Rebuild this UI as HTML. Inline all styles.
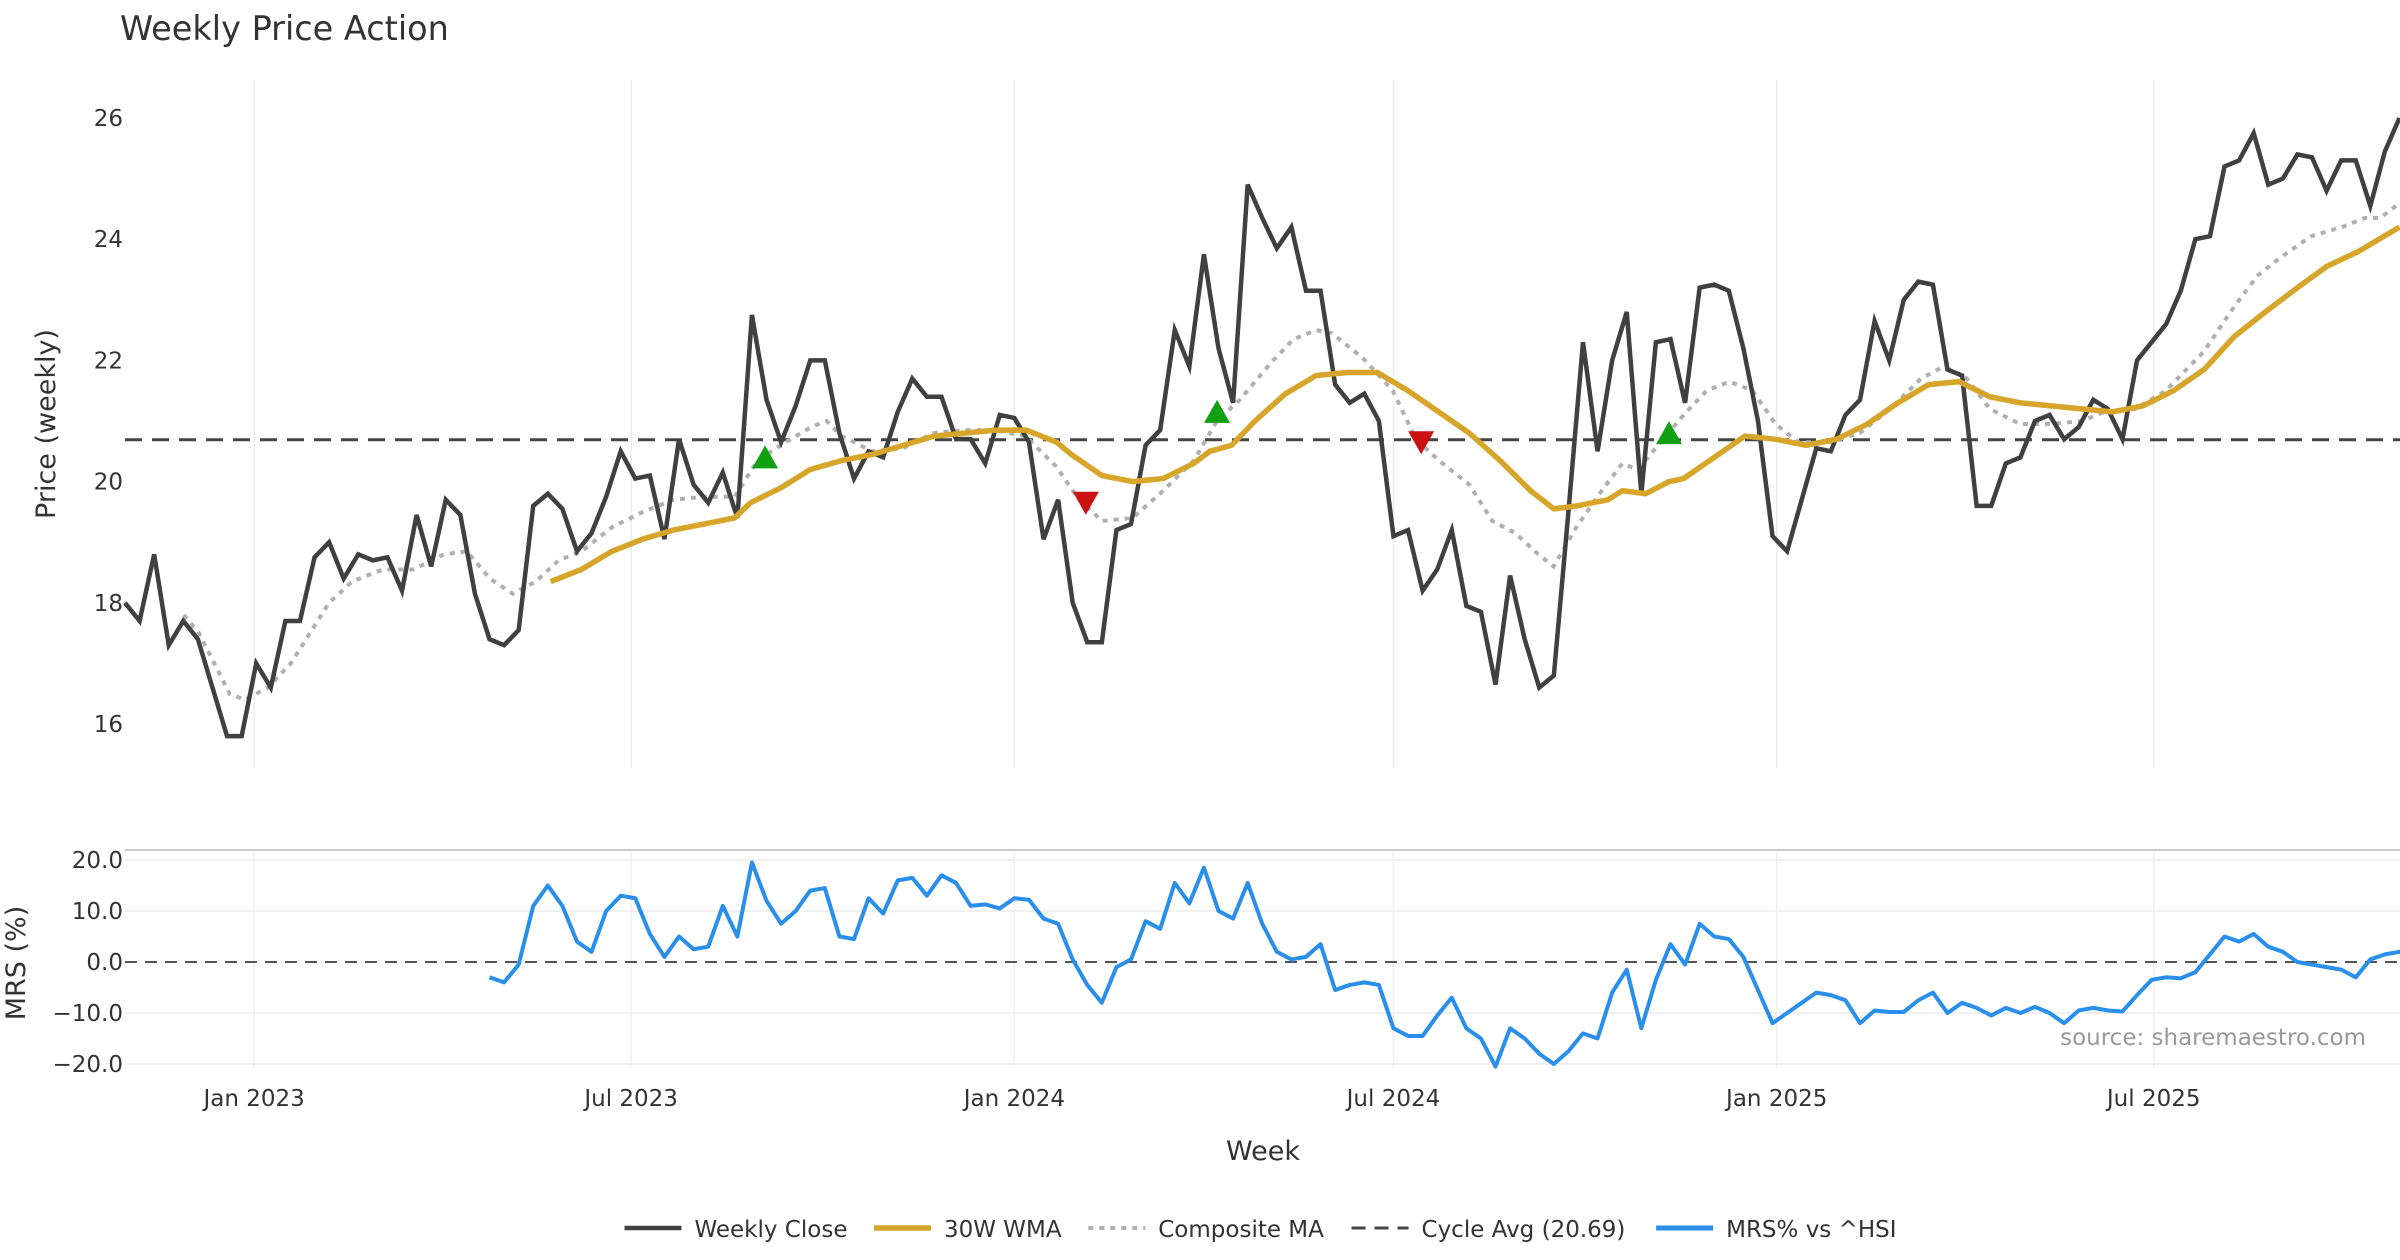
<!DOCTYPE html>
<html><head><meta charset="utf-8">
<style>
html,body{margin:0;padding:0;background:#fff;}
svg{display:block;font-family:"DejaVu Sans","Liberation Sans",sans-serif;}
</style></head>
<body>
<svg id="chart" width="2400" height="1260" viewBox="0 0 2400 1260" xmlns="http://www.w3.org/2000/svg">
<text x="120" y="40" font-size="33.5" fill="#333">Weekly Price Action</text>
<g id="price"></g>
<g id="mrs"></g>
<text transform="translate(55,424) rotate(-90)" text-anchor="middle" font-size="27" fill="#333">Price (weekly)</text>
<text transform="translate(25,963) rotate(-90)" text-anchor="middle" font-size="27" fill="#333">MRS (%)</text>
<text x="1263" y="1160" text-anchor="middle" font-size="27" fill="#333">Week</text>
<text x="2366" y="1045" text-anchor="end" font-size="23" fill="#999">source: sharemaestro.com</text>
<g id="legend"></g>
</svg>
<script>
const startDate = Date.UTC(2022,9,31);
const closes = [18.0,17.7,18.8,17.3,17.7,17.4,16.6,15.8,15.8,17.0,16.6,17.7,17.7,18.75,19.0,18.4,18.8,18.7,18.75,18.2,19.45,18.6,19.7,19.45,18.15,17.4,17.3,17.55,19.6,19.8,19.55,18.85,19.15,19.75,20.5,20.05,20.1,19.05,20.7,19.95,19.65,20.15,19.4,22.75,21.35,20.65,21.25,22.0,22.0,20.8,20.05,20.5,20.4,21.15,21.7,21.4,21.4,20.7,20.7,20.3,21.1,21.05,20.65,19.05,19.7,18.0,17.35,17.35,19.2,19.3,20.6,20.85,22.5,21.9,23.75,22.2,21.3,24.9,24.35,23.85,24.2,23.15,23.15,21.6,21.3,21.45,21.0,19.1,19.2,18.2,18.55,19.2,17.95,17.85,16.65,18.45,17.4,16.6,16.8,19.5,22.3,20.5,22.0,22.8,19.8,22.3,22.35,21.3,23.2,23.25,23.15,22.2,21.0,19.1,18.85,19.7,20.55,20.5,21.1,21.35,22.65,22.0,23.0,23.3,23.25,21.85,21.75,19.6,19.6,20.3,20.4,21.0,21.1,20.7,20.9,21.35,21.2,20.7,22.0,22.3,22.6,23.15,24.0,24.05,25.2,25.3,25.75,24.9,25.0,25.4,25.35,24.8,25.3,25.3,24.55,25.45,26.0];
const wmaWeek = [29.2,31.3,33.4,35.5,37.6,39.7,41.8,42.9,45,47,49.2,51.3,53.4,55.5,57.6,59.7,61.8,63.9,64.9,67,69.1,71.2,73.3,74.4,75.9,77.5,79.6,81.7,83.8,85.9,88,90.1,92.2,94.3,96.4,98,99.6,101.7,102.7,104.3,105.9,106.9,109,111.1,113.2,115.3,117.4,119.5,121.6,123.7,125.8,127.9,130,132.1,134.2,136.3,138.4,140.5,142.6,144.7,146.8,149,151,153.2,155.3,156];
const wmaValues = [18.35,18.55,18.85,19.05,19.2,19.3,19.4,19.65,19.9,20.2,20.35,20.45,20.6,20.75,20.8,20.85,20.85,20.65,20.45,20.1,20.0,20.05,20.3,20.5,20.6,21.0,21.45,21.75,21.8,21.8,21.5,21.15,20.8,20.35,19.85,19.55,19.6,19.7,19.85,19.8,20.0,20.05,20.4,20.75,20.7,20.6,20.7,20.95,21.3,21.6,21.65,21.4,21.3,21.25,21.2,21.15,21.25,21.5,21.85,22.4,22.8,23.2,23.55,23.8,24.1,24.2];
const compX = [120,130,140,150,160,175,190,200,215,230,250,270,290,305,320,335,350,365,380,400,420,440,460,480,495,510,530,540,550,570,590,610,630,650,670,690,705,720,740,760,780,795,810,830,845,860,870,890,910,925,940,960,975,990,1005,1015,1030,1045,1060,1070,1085,1100,1115,1130,1145,1160,1175,1195,1215,1235,1255,1270,1285,1300,1320,1340,1360,1375,1395,1415,1440,1460,1475,1490,1510,1530,1545,1555,1568];
const compValues = [17.8,17.5,17.0,16.5,16.4,16.6,17.0,17.4,18.0,18.35,18.55,18.55,18.8,18.85,18.4,18.15,18.35,18.7,18.85,19.25,19.5,19.7,19.75,19.75,20.35,20.6,20.9,21.0,20.75,20.5,20.55,20.8,20.85,20.85,20.75,20.25,19.7,19.35,19.4,19.85,20.35,21.0,21.35,21.95,22.35,22.5,22.45,22.05,21.5,20.7,20.35,19.95,19.35,19.15,18.8,18.6,19.25,19.8,20.3,20.2,20.65,21.1,21.5,21.65,21.5,20.95,20.65,20.65,20.8,21.2,21.7,21.9,21.7,21.2,20.95,20.95,21.0,21.15,21.2,21.5,22.15,22.9,23.4,23.7,24.05,24.2,24.35,24.35,24.6];
const cycleAvg = 20.69;
const buyWeek = [43.9, 74.9, 105.9];
const buyValue = [20.4, 21.15, 20.8];
const sellWeek = [65.9, 88.9];
const sellValue = [19.65, 20.65];
const mrsStart = 25;
const mrsValues = [-3,-4,-0.5,11,15,11,4,2,10,13,12.5,5.5,1,5,2.5,3,11,5,19.5,12,7.5,10,14,14.5,5,4.5,12.5,9.5,16,16.5,13,17,15.5,11,11.3,10.5,12.5,12.2,8.5,7.5,0.5,-4.5,-8,-1,0.5,8,6.5,15.5,11.5,18.5,10,8.5,15.5,7.5,2,0.5,1,3.5,-5.5,-4.5,-4,-4.5,-13,-14.5,-14.5,-10.5,-7,-13,-15,-20.5,-13,-15,-18,-20,-17.5,-14,-15,-6,-1.5,-13,-3.5,3.5,-0.5,7.5,5,4.5,1,-5.5,-12,-10,-8,-6,-6.5,-7.5,-12,-9.5,-9.8,-9.8,-7.5,-6,-10,-8,-9,-10.5,-9,-10,-8.8,-10,-12,-9.5,-9,-9.5,-9.7,-6.5,-3.5,-3,-3.2,-2,1.5,5,4,5.5,3,2,0,-0.5,-1,-1.5,-3,0.5,1.5,2,3];
const priceTicks = [16,18,20,22,24,26];
const mrsTicks = [20,10,0,-10,-20];
const mrsTickLabels = ["20.0","10.0","0.0","\u221210.0","\u221220.0"];
const xTickDates = [[2023,0],[2023,6],[2024,0],[2024,6],[2025,0],[2025,6]];
const xTickLabels = ["Jan 2023","Jul 2023","Jan 2024","Jul 2024","Jan 2025","Jul 2025"];

const NS="http://www.w3.org/2000/svg";
const X0=125, STEP=14.58;
const xw = i => X0 + i*STEP;
const xDisp = d => d*2400/1568;
const yP = v => 118 + (26-v)*60.6;
const yM = v => 962 + (0-v)*5.1;
function mk(tag, attrs, parent){const e=document.createElementNS(NS,tag);for(const k in attrs)e.setAttribute(k,attrs[k]);parent.appendChild(e);return e;}
const P=document.getElementById('price'), M=document.getElementById('mrs'), L=document.getElementById('legend');

xTickDates.forEach((d,k)=>{
  const w=(Date.UTC(d[0],d[1],1)-startDate)/(7*86400000);
  const x=xw(w);
  const g1=mk('line',{x1:x,x2:x,y1:80,y2:768,stroke:'#ececec','stroke-width':1.5},P);
  
  
  const g2=mk('line',{x1:x,x2:x,y1:852,y2:1068,stroke:'#f0f0f0','stroke-width':1.5},M);
  
  
  const t=mk('text',{x:x,y:1106,'text-anchor':'middle','font-size':23,fill:'#333'},M);
  t.textContent=xTickLabels[k];
  
  
});
priceTicks.forEach(v=>{
  const t=mk('text',{x:123,y:yP(v)+8,'text-anchor':'end','font-size':23,fill:'#333'},P);
  t.textContent=v;
  
  
});
const ca=mk('line',{x1:125,x2:2400,y1:yP(cycleAvg),y2:yP(cycleAvg),stroke:'#444','stroke-width':3,'stroke-dasharray':'17,10'},P);


const cp=mk('polyline',{points:compX.map((x,i)=>xDisp(x)+','+yP(compValues[i])).join(' '),fill:'none',stroke:'#b0b0b0','stroke-width':4,'stroke-dasharray':'5,6'},P);


const cl=mk('polyline',{points:closes.map((v,i)=>xw(i)+','+yP(v)).join(' '),fill:'none',stroke:'#404040','stroke-width':4.5,'stroke-linejoin':'miter'},P);


const wm=mk('polyline',{points:wmaWeek.map((w,i)=>xw(w)+','+yP(wmaValues[i])).join(' '),fill:'none',stroke:'#d6a52a','stroke-width':5.5,'stroke-linejoin':'round'},P);


buyWeek.forEach((w,i)=>{
  const x=xw(w), y=yP(buyValue[i]);
  const m=mk('polygon',{points:`${x-13},${y+11} ${x+13},${y+11} ${x},${y-12}`,fill:'#12a012'},P);
  
  
});
sellWeek.forEach((w,i)=>{
  const x=xw(w), y=yP(sellValue[i]);
  const m=mk('polygon',{points:`${x-13},${y-11} ${x+13},${y-11} ${x},${y+12}`,fill:'#cc1111'},P);
  
  
});
const mrsBorder=mk('line',{x1:125,x2:2400,y1:850,y2:850,stroke:'#cccccc','stroke-width':2},M);


mrsTicks.forEach((v,k)=>{
  if(v!==0){const g=mk('line',{x1:125,x2:2400,y1:yM(v),y2:yM(v),stroke:'#ececec','stroke-width':1.5},M);
  
  }
  const t=mk('text',{x:123,y:yM(v)+8,'text-anchor':'end','font-size':23,fill:'#333'},M);
  t.textContent=mrsTickLabels[k];
  
  
});
const zl=mk('line',{x1:125,x2:2400,y1:yM(0),y2:yM(0),stroke:'#555','stroke-width':2,'stroke-dasharray':'12,8'},M);


const ml=mk('polyline',{points:mrsValues.map((v,i)=>xw(mrsStart+i)+','+yM(v)).join(' '),fill:'none',stroke:'#2a8fea','stroke-width':4,'stroke-linejoin':'round'},M);


const leg=[[408,'Weekly Close','#404040',4.5,''],[571,'30W WMA','#d6a52a',5.5,''],[711,'Composite MA','#b0b0b0',4,'5,6'],[883,'Cycle Avg (20.69)','#444',3,'14,9'],[1082,'MRS% vs ^HSI','#2a8fea',5,'']];
leg.forEach(e=>{
  const x=xDisp(e[0]);
  const a={x1:x,x2:x+57,y1:1228,y2:1228,stroke:e[2],'stroke-width':e[3]};
  if(e[4])a['stroke-dasharray']=e[4];
  const l=mk('line',a,L);
  
  
  const t=mk('text',{x:x+70,y:1237,'font-size':23,fill:'#333'},L);
  t.textContent=e[1];
  
  
});
</script>
</body></html>
